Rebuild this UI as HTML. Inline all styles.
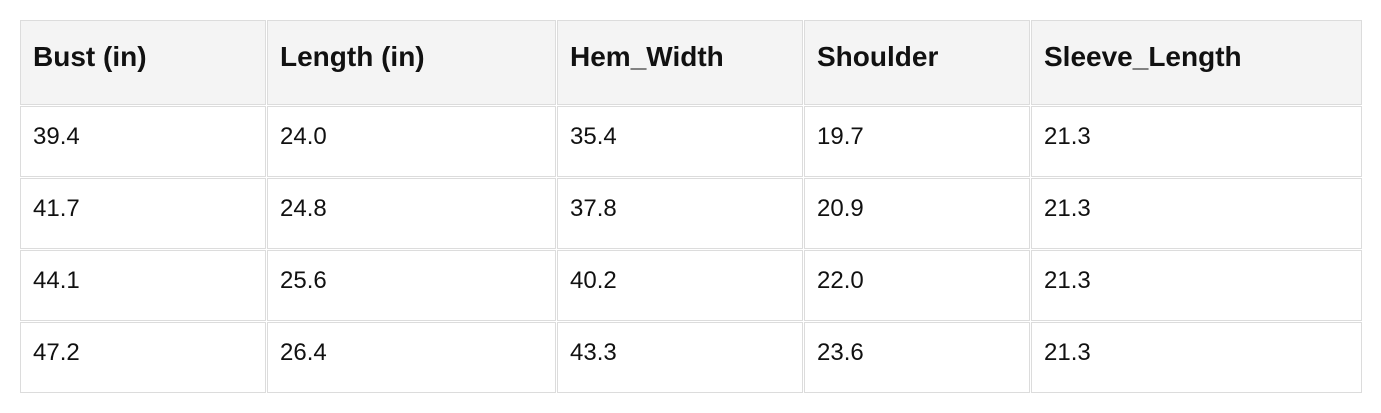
<!DOCTYPE html>
<html><head><style>
body{margin:0;background:#fff;width:1381px;height:413px;position:relative;font-family:"Liberation Sans",Arial,sans-serif;}
.c{position:absolute;box-sizing:border-box;border:1px solid #dcdcdc;font-size:24px;color:#111;display:flex;align-items:center;padding-left:12px;padding-bottom:10px;}
.h{background:#f4f4f4;font-weight:bold;font-size:28px;padding-bottom:11px;}
</style></head><body>
<div id="t"></div>
<script>
var xs=[[20,266],[267,556],[557,803],[804,1030],[1031,1362]];
var ys=[[20,105],[106,177],[178,249],[250,321],[322,393]];
var d=[["Bust (in)","Length (in)","Hem_Width","Shoulder","Sleeve_Length"],
["39.4","24.0","35.4","19.7","21.3"],["41.7","24.8","37.8","20.9","21.3"],
["44.1","25.6","40.2","22.0","21.3"],["47.2","26.4","43.3","23.6","21.3"]];
var h="";
for(var r=0;r<5;r++)for(var c=0;c<5;c++){
h+='<div class="c'+(r==0?' h':'')+'" style="left:'+xs[c][0]+'px;width:'+(xs[c][1]-xs[c][0])+'px;top:'+ys[r][0]+'px;height:'+(ys[r][1]-ys[r][0])+'px">'+d[r][c]+'</div>';}
document.getElementById("t").innerHTML=h;
</script>
</body></html>
